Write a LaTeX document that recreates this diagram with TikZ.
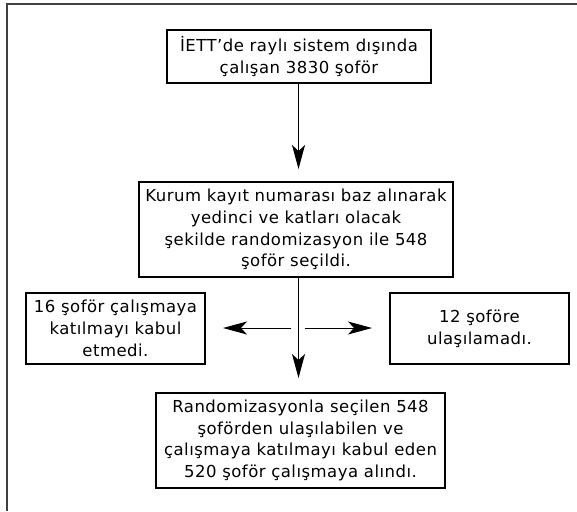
\documentclass[tikz,border=0pt]{standalone}
\usepackage{fontspec}
\setmainfont{DejaVu Sans}[LetterSpace=2.9]
\usetikzlibrary{arrows.meta}
\begin{document}
\begin{tikzpicture}[x=1pt,y=-1pt,
  box/.style={draw=black, line width=1.2pt, align=center, inner sep=0pt,
    font=\fontsize{16.5}{21.7}\selectfont},
  arr/.style={line width=1pt, -{Stealth[length=24pt,width=13pt,inset=6pt]}},
  frame/.style={draw=black!75, line width=1.8pt}]
\useasboundingbox (0,0) rectangle (577,511);
\draw[frame] (5.8,4) -- (577,4);
\draw[frame] (6.7,3.1) -- (6.7,511);
\node[box, minimum width=264pt, minimum height=53pt] (b1) at (299,56.5)
  {İETT’de raylı sistem dışında\\çalışan 3830 şoför};
\node[box, minimum width=314pt, minimum height=95pt] (b2) at (296,229.5)
  {Kurum kayıt numarası baz alınarak\\yedinci ve katları olacak\\şekilde randomizasyon ile 548\\şoför seçildi.};
\node[box, minimum width=179pt, minimum height=71pt] (bl) at (115.5,328.5)
  {16 şoför çalışmaya\\katılmayı kabul\\etmedi.};
\node[box, minimum width=179pt, minimum height=71pt] (br) at (479.5,328.5)
  {12 şoföre\\ulaşılamadı.};
\node[box, minimum width=289pt, minimum height=95pt] (b3) at (300.5,440.5)
  {Randomizasyonla seçilen 548\\şoförden ulaşılabilen ve\\çalışmaya katılmayı kabul eden\\520 şoför çalışmaya alındı.};
\coordinate (t1) at (298.5,83);
\coordinate (e1) at (298.5,169);
\coordinate (s2) at (298.5,277);
\coordinate (e2) at (298.5,378);
\coordinate (ml) at (291,328);
\coordinate (el) at (223,328);
\coordinate (mr) at (305,328);
\coordinate (er) at (372,328);
\draw[arr] (t1) -- (e1);
\draw[arr] (s2) -- (e2);
\draw[arr] (ml) -- (el);
\draw[arr] (mr) -- (er);
\end{tikzpicture}
\end{document}
